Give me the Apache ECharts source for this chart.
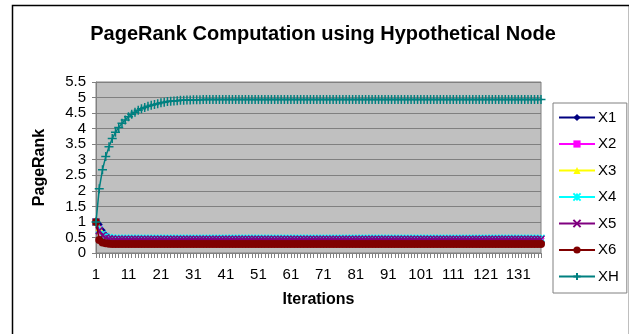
<!DOCTYPE html>
<html>
<head>
<meta charset="utf-8">
<script src="https://cdn.jsdelivr.net/npm/echarts@6/dist/echarts.min.js"></script>
<style>
html,body{margin:0;padding:0;background:#fff;}
#c{width:629px;height:334px;}
</style>
</head>
<body>
<div id="c"></div>
<script>
var categories = [
1,2,3,4,5,6,7,8,9,10,
11,12,13,14,15,16,17,18,19,20,
21,22,23,24,25,26,27,28,29,30,
31,32,33,34,35,36,37,38,39,40,
41,42,43,44,45,46,47,48,49,50,
51,52,53,54,55,56,57,58,59,60,
61,62,63,64,65,66,67,68,69,70,
71,72,73,74,75,76,77,78,79,80,
81,82,83,84,85,86,87,88,89,90,
91,92,93,94,95,96,97,98,99,100,
101,102,103,104,105,106,107,108,109,110,
111,112,113,114,115,116,117,118,119,120,
121,122,123,124,125,126,127,128,129,130,
131,132,133,134,135,136,137,138
];
var yTicks = [0,0.5,1,1.5,2,2.5,3,3.5,4,4.5,5,5.5];
var seriesNames = ['X1','X2','X3','X4','X5','X6','XH'];

var x1 = [
1,0.92,0.72,0.58,0.51,0.48,0.47,0.46,0.46,0.46,
0.46,0.46,0.46,0.46,0.46,0.46,0.46,0.46,0.46,0.46,
0.46,0.46,0.46,0.46,0.46,0.46,0.46,0.46,0.46,0.46,
0.46,0.46,0.46,0.46,0.46,0.46,0.46,0.46,0.46,0.46,
0.46,0.46,0.46,0.46,0.46,0.46,0.46,0.46,0.46,0.46,
0.46,0.46,0.46,0.46,0.46,0.46,0.46,0.46,0.46,0.46,
0.46,0.46,0.46,0.46,0.46,0.46,0.46,0.46,0.46,0.46,
0.46,0.46,0.46,0.46,0.46,0.46,0.46,0.46,0.46,0.46,
0.46,0.46,0.46,0.46,0.46,0.46,0.46,0.46,0.46,0.46,
0.46,0.46,0.46,0.46,0.46,0.46,0.46,0.46,0.46,0.46,
0.46,0.46,0.46,0.46,0.46,0.46,0.46,0.46,0.46,0.46,
0.46,0.46,0.46,0.46,0.46,0.46,0.46,0.46,0.46,0.46,
0.46,0.46,0.46,0.46,0.46,0.46,0.46,0.46,0.46,0.46,
0.46,0.46,0.46,0.46,0.46,0.46,0.46,0.46
];
var x2 = [
1,0.78,0.6,0.52,0.48,0.46,0.45,0.45,0.45,0.45,
0.45,0.45,0.45,0.45,0.45,0.45,0.45,0.45,0.45,0.45,
0.45,0.45,0.45,0.45,0.45,0.45,0.45,0.45,0.45,0.45,
0.45,0.45,0.45,0.45,0.45,0.45,0.45,0.45,0.45,0.45,
0.45,0.45,0.45,0.45,0.45,0.45,0.45,0.45,0.45,0.45,
0.45,0.45,0.45,0.45,0.45,0.45,0.45,0.45,0.45,0.45,
0.45,0.45,0.45,0.45,0.45,0.45,0.45,0.45,0.45,0.45,
0.45,0.45,0.45,0.45,0.45,0.45,0.45,0.45,0.45,0.45,
0.45,0.45,0.45,0.45,0.45,0.45,0.45,0.45,0.45,0.45,
0.45,0.45,0.45,0.45,0.45,0.45,0.45,0.45,0.45,0.45,
0.45,0.45,0.45,0.45,0.45,0.45,0.45,0.45,0.45,0.45,
0.45,0.45,0.45,0.45,0.45,0.45,0.45,0.45,0.45,0.45,
0.45,0.45,0.45,0.45,0.45,0.45,0.45,0.45,0.45,0.45,
0.45,0.45,0.45,0.45,0.45,0.45,0.45,0.45
];
var x3 = [
1,0.82,0.63,0.53,0.49,0.46,0.45,0.45,0.45,0.45,
0.45,0.45,0.45,0.45,0.45,0.45,0.45,0.45,0.45,0.45,
0.45,0.45,0.45,0.45,0.45,0.45,0.45,0.45,0.45,0.45,
0.45,0.45,0.45,0.45,0.45,0.45,0.45,0.45,0.45,0.45,
0.45,0.45,0.45,0.45,0.45,0.45,0.45,0.45,0.45,0.45,
0.45,0.45,0.45,0.45,0.45,0.45,0.45,0.45,0.45,0.45,
0.45,0.45,0.45,0.45,0.45,0.45,0.45,0.45,0.45,0.45,
0.45,0.45,0.45,0.45,0.45,0.45,0.45,0.45,0.45,0.45,
0.45,0.45,0.45,0.45,0.45,0.45,0.45,0.45,0.45,0.45,
0.45,0.45,0.45,0.45,0.45,0.45,0.45,0.45,0.45,0.45,
0.45,0.45,0.45,0.45,0.45,0.45,0.45,0.45,0.45,0.45,
0.45,0.45,0.45,0.45,0.45,0.45,0.45,0.45,0.45,0.45,
0.45,0.45,0.45,0.45,0.45,0.45,0.45,0.45,0.45,0.45,
0.45,0.45,0.45,0.45,0.45,0.45,0.45,0.45
];
var x4 = [
1,0.75,0.6,0.53,0.5,0.48,0.47,0.47,0.47,0.47,
0.47,0.47,0.47,0.47,0.47,0.47,0.47,0.47,0.47,0.47,
0.47,0.47,0.47,0.47,0.47,0.47,0.47,0.47,0.47,0.47,
0.47,0.47,0.47,0.47,0.47,0.47,0.47,0.47,0.47,0.47,
0.47,0.47,0.47,0.47,0.47,0.47,0.47,0.47,0.47,0.47,
0.47,0.47,0.47,0.47,0.47,0.47,0.47,0.47,0.47,0.47,
0.47,0.47,0.47,0.47,0.47,0.47,0.47,0.47,0.47,0.47,
0.47,0.47,0.47,0.47,0.47,0.47,0.47,0.47,0.47,0.47,
0.47,0.47,0.47,0.47,0.47,0.47,0.47,0.47,0.47,0.47,
0.47,0.47,0.47,0.47,0.47,0.47,0.47,0.47,0.47,0.47,
0.47,0.47,0.47,0.47,0.47,0.47,0.47,0.47,0.47,0.47,
0.47,0.47,0.47,0.47,0.47,0.47,0.47,0.47,0.47,0.47,
0.47,0.47,0.47,0.47,0.47,0.47,0.47,0.47,0.47,0.47,
0.47,0.47,0.47,0.47,0.47,0.47,0.47,0.47
];
var x5 = [
1,0.72,0.56,0.49,0.46,0.45,0.44,0.44,0.44,0.44,
0.44,0.44,0.44,0.44,0.44,0.44,0.44,0.44,0.44,0.44,
0.44,0.44,0.44,0.44,0.44,0.44,0.44,0.44,0.44,0.44,
0.44,0.44,0.44,0.44,0.44,0.44,0.44,0.44,0.44,0.44,
0.44,0.44,0.44,0.44,0.44,0.44,0.44,0.44,0.44,0.44,
0.44,0.44,0.44,0.44,0.44,0.44,0.44,0.44,0.44,0.44,
0.44,0.44,0.44,0.44,0.44,0.44,0.44,0.44,0.44,0.44,
0.44,0.44,0.44,0.44,0.44,0.44,0.44,0.44,0.44,0.44,
0.44,0.44,0.44,0.44,0.44,0.44,0.44,0.44,0.44,0.44,
0.44,0.44,0.44,0.44,0.44,0.44,0.44,0.44,0.44,0.44,
0.44,0.44,0.44,0.44,0.44,0.44,0.44,0.44,0.44,0.44,
0.44,0.44,0.44,0.44,0.44,0.44,0.44,0.44,0.44,0.44,
0.44,0.44,0.44,0.44,0.44,0.44,0.44,0.44,0.44,0.44,
0.44,0.44,0.44,0.44,0.44,0.44,0.44,0.44
];
var x6 = [
1,0.42,0.34,0.31,0.3,0.29,0.29,0.29,0.29,0.29,
0.29,0.29,0.29,0.29,0.29,0.29,0.29,0.29,0.29,0.29,
0.29,0.29,0.29,0.29,0.29,0.29,0.29,0.29,0.29,0.29,
0.29,0.29,0.29,0.29,0.29,0.29,0.29,0.29,0.29,0.29,
0.29,0.29,0.29,0.29,0.29,0.29,0.29,0.29,0.29,0.29,
0.29,0.29,0.29,0.29,0.29,0.29,0.29,0.29,0.29,0.29,
0.29,0.29,0.29,0.29,0.29,0.29,0.29,0.29,0.29,0.29,
0.29,0.29,0.29,0.29,0.29,0.29,0.29,0.29,0.29,0.29,
0.29,0.29,0.29,0.29,0.29,0.29,0.29,0.29,0.29,0.29,
0.29,0.29,0.29,0.29,0.29,0.29,0.29,0.29,0.29,0.29,
0.29,0.29,0.29,0.29,0.29,0.29,0.29,0.29,0.29,0.29,
0.29,0.29,0.29,0.29,0.29,0.29,0.29,0.29,0.29,0.29,
0.29,0.29,0.29,0.29,0.29,0.29,0.29,0.29,0.29,0.29,
0.29,0.29,0.29,0.29,0.29,0.29,0.29,0.29
];
var xh = [
1,2.07,2.68,3.1,3.42,3.68,3.88,4.04,4.17,4.28,
4.38,4.46,4.53,4.59,4.64,4.68,4.72,4.75,4.78,4.8,
4.83,4.85,4.87,4.88,4.89,4.9,4.91,4.91,4.92,4.92,
4.93,4.93,4.93,4.94,4.94,4.94,4.94,4.94,4.94,4.94,
4.94,4.94,4.94,4.94,4.94,4.94,4.94,4.94,4.94,4.94,
4.94,4.94,4.94,4.94,4.94,4.94,4.94,4.94,4.94,4.94,
4.94,4.94,4.94,4.94,4.94,4.94,4.94,4.94,4.94,4.94,
4.94,4.94,4.94,4.94,4.94,4.94,4.94,4.94,4.94,4.94,
4.94,4.94,4.94,4.94,4.94,4.94,4.94,4.94,4.94,4.94,
4.94,4.94,4.94,4.94,4.94,4.94,4.94,4.94,4.94,4.94,
4.94,4.94,4.94,4.94,4.94,4.94,4.94,4.94,4.94,4.94,
4.94,4.94,4.94,4.94,4.94,4.94,4.94,4.94,4.94,4.94,
4.94,4.94,4.94,4.94,4.94,4.94,4.94,4.94,4.94,4.94,
4.94,4.94,4.94,4.94,4.94,4.94,4.94,4.94
];

var FONT = 'Liberation Sans, Arial, sans-serif';
var colors = ['#000080','#ff00ff','#ffff00','#00ffff','#800080','#800000','#008080'];
var symbols = [
  'diamond',
  'rect',
  'triangle',
  'path://M0,0L10,10M10,0L0,10M5,0L5,10',
  'path://M0,0L10,10M10,0L0,10',
  'circle',
  'path://M5,0L5,10M0,5L10,5'
];
var sizes = [7,6,7,7,7,8,9];
var dataSets = [x1,x2,x3,x4,x5,x6,xh];

var series = seriesNames.map(function(n,i){
  return {
    name: n, type: 'line', data: dataSets[i],
    symbol: symbols[i], symbolSize: sizes[i], showSymbol: true, showAllSymbol: true,
    lineStyle: {color: colors[i], width: 1.5},
    itemStyle: {color: colors[i], borderColor: colors[i], borderWidth: (i===3||i===4||i===6)?1.5:0},
    z: 2 + i
  };
});

var chart = echarts.init(document.getElementById('c'), null, {renderer:'canvas'});
chart.setOption({
  animation: false,
  backgroundColor: '#ffffff',
  title: {
    text: 'PageRank Computation using Hypothetical Node',
    left: 318, top: 19, textAlign: 'center',
    textStyle: {fontFamily: FONT, fontSize: 20, fontWeight: 'bold', color: '#000'}
  },
  grid: {
    left: 96, top: 82, width: 445, height: 171,
    show: true, backgroundColor: '#c0c0c0', borderColor: '#808080', borderWidth: 1
  },
  legend: {
    orient: 'vertical', left: 553, top: 103,
    data: seriesNames,
    itemWidth: 36, itemHeight: 9, itemGap: 9.5,
    padding: [6, 8, 8, 5],
    backgroundColor: '#ffffff', borderColor: '#808080', borderWidth: 1,
    textStyle: {fontFamily: FONT, fontSize: 15, color: '#000', lineHeight: 17, padding: [0,0,0,-2]}
  },
  xAxis: {
    type: 'category', data: categories, boundaryGap: false,
    name: 'Iterations', nameLocation: 'middle', nameGap: 39,
    nameTextStyle: {fontFamily: FONT, fontSize: 16, fontWeight: 'bold', color: '#000'},
    axisLine: {lineStyle: {color: '#808080', width: 1}},
    axisTick: {show: true, interval: 0, length: 5, lineStyle: {color: '#808080'}},
    axisLabel: {interval: 9, margin: 14, fontFamily: FONT, fontSize: 15, color: '#000'},
    splitLine: {show: false}
  },
  yAxis: {
    type: 'value', min: 0, max: 5.5, interval: 0.5,
    name: 'PageRank', nameLocation: 'middle', nameGap: 48, nameRotate: 90,
    nameTextStyle: {fontFamily: FONT, fontSize: 16, fontWeight: 'bold', color: '#000'},
    axisLine: {show: true, lineStyle: {color: '#808080', width: 1}},
    axisTick: {show: true, length: 4, lineStyle: {color: '#808080'}},
    axisLabel: {margin: 10, fontFamily: FONT, fontSize: 15, lineHeight: 14, color: '#000',
      showMinLabel: true, showMaxLabel: true, hideOverlap: false,
      formatter: function(v){ var i = yTicks.indexOf(v); return i>=0 ? String(yTicks[i]) : ''; }},
    splitLine: {show: true, lineStyle: {color: '#808080', width: 1}}
  },
  graphic: [{
    type: 'rect', left: 10, top: 3, silent: true, z: 100,
    shape: {width: 617, height: 340},
    style: {fill: 'none', stroke: '#000', lineWidth: 1.5}
  }],
  series: series
});
</script>
</body>
</html>
